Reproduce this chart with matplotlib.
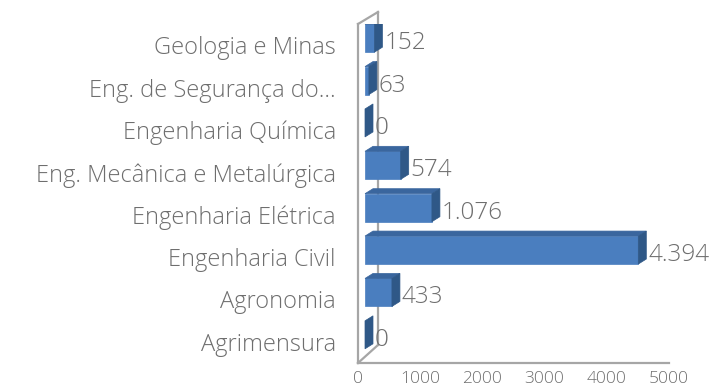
import matplotlib
matplotlib.use("Agg")
import matplotlib.pyplot as plt
from matplotlib.patches import Polygon

plt.rcParams['font.family'] = ['Open Sans', 'DejaVu Sans']

categories = ["Agrimensura", "Agronomia", "Engenharia Civil", "Engenharia Elétrica",
              "Eng. Mecânica e Metalúrgica", "Engenharia Química",
              "Eng. de Segurança do...", "Geologia e Minas"]
values = [0, 433, 4394, 1076, 574, 0, 63, 152]
xticks = [0, 1000, 2000, 3000, 4000, 5000]

W, H = 710, 389
fig = plt.figure(figsize=(W / 100, H / 100), dpi=100)

# plot area in pixels: front edge of the floor from x=358 to 669, y from 363 up to 24
left_px, right_px, bot_px, top_px = 358, 669, 363, 24
ax = fig.add_axes([left_px / W, 1 - bot_px / H, (right_px - left_px) / W, (bot_px - top_px) / H])
xmax = 5000
ax.set_xlim(0, xmax)
ax.set_ylim(-0.5, len(categories) - 0.5)

px_x = xmax / (right_px - left_px)                 # data units per pixel (x)
px_y = len(categories) / (bot_px - top_px)         # data units per pixel (y)

wall_c = "#A6A6A6"
front_c = "#4A7EBF"
side_c = "#2F5887"
top_c = "#3A669E"
text_c = "#6E6E6E"

# back wall depth
wdx, wdy = 20 * px_x, 14 * px_y
y0, y1 = -0.5, len(categories) - 0.5
ax.plot([0, 0], [y0, y1], color=wall_c, lw=1.6, zorder=1, clip_on=False)
ax.plot([wdx, wdx], [y0 + 18 * px_y, y1 + 12 * px_y], color=wall_c, lw=1.6, zorder=1, clip_on=False)
ax.plot([0, wdx], [y1, y1 + 12 * px_y], color=wall_c, lw=1.6, zorder=1, clip_on=False)
ax.plot([0, wdx], [y0, y0 + 18 * px_y], color=wall_c, lw=1.6, zorder=1, clip_on=False)
ax.plot([0, xmax], [y0, y0], color=wall_c, lw=1.6, zorder=1, clip_on=False)

# bars sit halfway into the depth
ox, oy = 7 * px_x, 7 * px_y
bdx, bdy = 8 * px_x, 5 * px_y
bh = 28 * px_y

for i, v in enumerate(values):
    x0 = ox
    x1 = ox + v
    yb = i + oy - bh / 2
    yt = i + oy + bh / 2
    if v > 0:
        ax.add_patch(Polygon([(x0, yb), (x1, yb), (x1, yt), (x0, yt)],
                             closed=True, facecolor=front_c, edgecolor=front_c, lw=0.5, zorder=3))
        ax.add_patch(Polygon([(x0, yt), (x1, yt), (x1 + bdx, yt + bdy), (x0 + bdx, yt + bdy)],
                             closed=True, facecolor=top_c, edgecolor=top_c, lw=0.5, zorder=3))
    ax.add_patch(Polygon([(x1, yb), (x1 + bdx, yb + bdy), (x1 + bdx, yt + bdy), (x1, yt)],
                         closed=True, facecolor=side_c, edgecolor=side_c, lw=0.5, zorder=3))
    label = f"{v:,}".replace(",", ".")
    ax.text(x1 + bdx + 2 * px_x, i + 2 * px_y, label, ha='left', va='center',
            fontsize=17.5, color=text_c, fontweight='light', zorder=4)

ax.set_yticks(range(len(categories)))
ax.set_yticklabels(categories)
ax.set_xticks(xticks)
ax.set_xticklabels([str(t) for t in xticks])
ax.tick_params(axis='y', length=0, pad=16, labelsize=17, labelcolor=text_c)
ax.tick_params(axis='x', length=0, pad=6, labelsize=12.5, labelcolor=text_c)
for lab in ax.get_yticklabels() + ax.get_xticklabels():
    lab.set_fontweight('light')
for s in ax.spines.values():
    s.set_visible(False)
ax.patch.set_alpha(0)

fig.savefig("out.png", dpi=100)
